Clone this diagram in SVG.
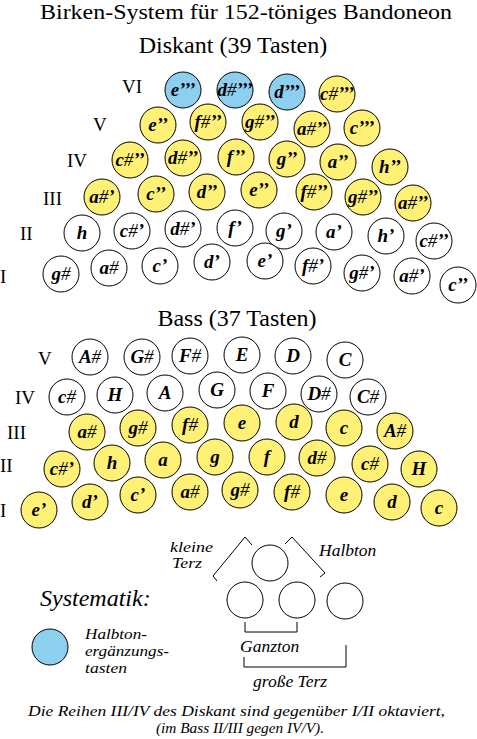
<svg xmlns="http://www.w3.org/2000/svg" width="477" height="739" viewBox="0 0 477 739">
<style>
.k{stroke:#000;stroke-width:1}
.w{fill:#fff}
.y{fill:#fff176}
.b{fill:#8ccfee}
.n{font-family:"Liberation Serif","Times New Roman",serif;font-weight:bold;font-style:italic;font-size:19px;text-anchor:middle;fill:#000}
.s{font-weight:normal}
.r{font-family:"Liberation Serif","Times New Roman",serif;font-size:19px;fill:#000}
.t{font-family:"Liberation Serif","Times New Roman",serif;font-size:24px;fill:#000;text-anchor:middle}
.i{font-family:"Liberation Serif","Times New Roman",serif;font-style:italic;font-size:17.5px;fill:#000}
.f{font-size:15px}
.ln{fill:none;stroke:#000;stroke-width:1}
</style>
<defs>
<circle id="c" r="18"/>
</defs>
<text class="t" x="40" y="19" style="font-size:21px;text-anchor:start" textLength="412" lengthAdjust="spacingAndGlyphs">Birken-System für 152-töniges Bandoneon</text>
<text class="t" x="233" y="53">Diskant (39 Tasten)</text>
<text class="t" x="237" y="326">Bass (37 Tasten)</text>
<g id="row-labels">
<text class="r" x="122" y="93">VI</text>
<text class="r" x="93" y="131">V</text>
<text class="r" x="67" y="167">IV</text>
<text class="r" x="43" y="205">III</text>
<text class="r" x="20" y="240">II</text>
<text class="r" x="0" y="283">I</text>
<text class="r" x="38" y="365">V</text>
<text class="r" x="15" y="404">IV</text>
<text class="r" x="7" y="439">III</text>
<text class="r" x="0" y="472">II</text>
<text class="r" x="0" y="517">I</text>
</g>
<g id="diskant">
<g id="d-e3"><use href="#c" x="183" y="90" class="k b"/><text class="n" x="183" y="96">e’’’</text></g>
<g id="d-dis3"><use href="#c" x="235" y="90" class="k b"/><text class="n" x="235" y="96">d<tspan class="s">#</tspan>’’’</text></g>
<g id="d-d3"><use href="#c" x="287" y="92" class="k b"/><text class="n" x="287" y="98">d’’’</text></g>
<g id="d-cis3"><use href="#c" x="337" y="94" class="k y"/><text class="n" x="337" y="100">c<tspan class="s">#</tspan>’’’</text></g>

<g id="d-e2"><use href="#c" x="158" y="125" class="k y"/><text class="n" x="158" y="131">e’’</text></g>
<g id="d-fis2"><use href="#c" x="208" y="122" class="k y"/><text class="n" x="208" y="128">f<tspan class="s">#</tspan>’’</text></g>
<g id="d-gis2"><use href="#c" x="260" y="122" class="k y"/><text class="n" x="260" y="128">g<tspan class="s">#</tspan>’’</text></g>
<g id="d-ais2"><use href="#c" x="312" y="129" class="k y"/><text class="n" x="312" y="135">a<tspan class="s">#</tspan>’’</text></g>
<g id="d-c3"><use href="#c" x="362" y="128" class="k y"/><text class="n" x="362" y="134">c’’’</text></g>

<g id="d-cis2"><use href="#c" x="130" y="160" class="k y"/><text class="n" x="130" y="166">c<tspan class="s">#</tspan>’’</text></g>
<g id="d-dis2"><use href="#c" x="183" y="158" class="k y"/><text class="n" x="183" y="164">d<tspan class="s">#</tspan>’’</text></g>
<g id="d-f2"><use href="#c" x="236" y="157" class="k y"/><text class="n" x="236" y="163">f’’</text></g>
<g id="d-g2"><use href="#c" x="287" y="159" class="k y"/><text class="n" x="287" y="165">g’’</text></g>
<g id="d-a2"><use href="#c" x="338" y="162" class="k y"/><text class="n" x="338" y="168">a’’</text></g>
<g id="d-h2"><use href="#c" x="390" y="167" class="k y"/><text class="n" x="390" y="173">h’’</text></g>

<g id="d-ais1"><use href="#c" x="102" y="197" class="k y"/><text class="n" x="102" y="203">a<tspan class="s">#</tspan>’</text></g>
<g id="d-c2"><use href="#c" x="156" y="194" class="k y"/><text class="n" x="156" y="200">c’’</text></g>
<g id="d-d2"><use href="#c" x="207" y="192" class="k y"/><text class="n" x="207" y="198">d’’</text></g>
<g id="d-e2b"><use href="#c" x="259" y="190" class="k y"/><text class="n" x="259" y="196">e’’</text></g>
<g id="d-fis2b"><use href="#c" x="314" y="192" class="k y"/><text class="n" x="314" y="198">f<tspan class="s">#</tspan>’’</text></g>
<g id="d-gis2b"><use href="#c" x="363" y="197" class="k y"/><text class="n" x="363" y="203">g<tspan class="s">#</tspan>’’</text></g>
<g id="d-ais2b"><use href="#c" x="413" y="203" class="k y"/><text class="n" x="413" y="209">a<tspan class="s">#</tspan>’’</text></g>

<g id="d-h"><use href="#c" x="82" y="233" class="k w"/><text class="n" x="82" y="239">h</text></g>
<g id="d-cis1"><use href="#c" x="132" y="231" class="k w"/><text class="n" x="132" y="237">c<tspan class="s">#</tspan>’</text></g>
<g id="d-dis1"><use href="#c" x="183" y="229" class="k w"/><text class="n" x="183" y="235">d<tspan class="s">#</tspan>’</text></g>
<g id="d-f1"><use href="#c" x="235" y="228" class="k w"/><text class="n" x="235" y="234">f’</text></g>
<g id="d-g1"><use href="#c" x="284" y="231" class="k w"/><text class="n" x="284" y="237">g’</text></g>
<g id="d-a1"><use href="#c" x="334" y="232" class="k w"/><text class="n" x="334" y="238">a’</text></g>
<g id="d-h1"><use href="#c" x="386" y="236" class="k w"/><text class="n" x="386" y="242">h’</text></g>
<g id="d-cis2b"><use href="#c" x="434" y="241" class="k w"/><text class="n" x="434" y="247">c<tspan class="s">#</tspan>’’</text></g>

<g id="d-gis"><use href="#c" x="61" y="274" class="k w"/><text class="n" x="61" y="280">g<tspan class="s">#</tspan></text></g>
<g id="d-ais"><use href="#c" x="109" y="268" class="k w"/><text class="n" x="109" y="274">a<tspan class="s">#</tspan></text></g>
<g id="d-c1"><use href="#c" x="160" y="266" class="k w"/><text class="n" x="160" y="272">c’</text></g>
<g id="d-d1"><use href="#c" x="212" y="262" class="k w"/><text class="n" x="212" y="268">d’</text></g>
<g id="d-e1"><use href="#c" x="265" y="261" class="k w"/><text class="n" x="265" y="267">e’</text></g>
<g id="d-fis1"><use href="#c" x="313" y="266" class="k w"/><text class="n" x="313" y="272">f<tspan class="s">#</tspan>’</text></g>
<g id="d-gis1"><use href="#c" x="362" y="273" class="k w"/><text class="n" x="362" y="279">g<tspan class="s">#</tspan>’</text></g>
<g id="d-ais1b"><use href="#c" x="412" y="276" class="k w"/><text class="n" x="412" y="282">a<tspan class="s">#</tspan>’</text></g>
<g id="d-c2b"><use href="#c" x="458" y="285" class="k w"/><text class="n" x="458" y="291">c’’</text></g>
</g>

<g id="bass">
<g id="b-Ais"><use href="#c" x="90" y="357" class="k w"/><text class="n" x="90" y="363">A<tspan class="s">#</tspan></text></g>
<g id="b-Gis"><use href="#c" x="142" y="357" class="k w"/><text class="n" x="142" y="363">G<tspan class="s">#</tspan></text></g>
<g id="b-Fis"><use href="#c" x="190" y="356" class="k w"/><text class="n" x="190" y="362">F<tspan class="s">#</tspan></text></g>
<g id="b-E"><use href="#c" x="242" y="355" class="k w"/><text class="n" x="242" y="361">E</text></g>
<g id="b-D"><use href="#c" x="293" y="356" class="k w"/><text class="n" x="293" y="362">D</text></g>
<g id="b-C"><use href="#c" x="345" y="360" class="k w"/><text class="n" x="345" y="366">C</text></g>

<g id="b-cis"><use href="#c" x="67" y="397" class="k w"/><text class="n" x="67" y="403">c<tspan class="s">#</tspan></text></g>
<g id="b-H"><use href="#c" x="115" y="395" class="k w"/><text class="n" x="115" y="401">H</text></g>
<g id="b-A"><use href="#c" x="165" y="393" class="k w"/><text class="n" x="165" y="399">A</text></g>
<g id="b-G"><use href="#c" x="217" y="390" class="k w"/><text class="n" x="217" y="396">G</text></g>
<g id="b-F"><use href="#c" x="268" y="391" class="k w"/><text class="n" x="268" y="397">F</text></g>
<g id="b-Dis"><use href="#c" x="319" y="394" class="k w"/><text class="n" x="319" y="400">D<tspan class="s">#</tspan></text></g>
<g id="b-Cis"><use href="#c" x="368" y="397" class="k w"/><text class="n" x="368" y="403">C<tspan class="s">#</tspan></text></g>

<g id="b-ais"><use href="#c" x="87" y="432" class="k y"/><text class="n" x="87" y="438">a<tspan class="s">#</tspan></text></g>
<g id="b-gis"><use href="#c" x="138" y="428" class="k y"/><text class="n" x="138" y="434">g<tspan class="s">#</tspan></text></g>
<g id="b-fis"><use href="#c" x="190" y="425" class="k y"/><text class="n" x="190" y="431">f<tspan class="s">#</tspan></text></g>
<g id="b-e"><use href="#c" x="242" y="423" class="k y"/><text class="n" x="242" y="429">e</text></g>
<g id="b-d"><use href="#c" x="294" y="422" class="k y"/><text class="n" x="294" y="428">d</text></g>
<g id="b-c"><use href="#c" x="344" y="428" class="k y"/><text class="n" x="344" y="434">c</text></g>
<g id="b-Ais2"><use href="#c" x="395" y="431" class="k y"/><text class="n" x="395" y="437">A<tspan class="s">#</tspan></text></g>

<g id="b-cis1"><use href="#c" x="62" y="469" class="k y"/><text class="n" x="62" y="475">c<tspan class="s">#</tspan>’</text></g>
<g id="b-h"><use href="#c" x="112" y="463" class="k y"/><text class="n" x="112" y="469">h</text></g>
<g id="b-a"><use href="#c" x="163" y="460" class="k y"/><text class="n" x="163" y="466">a</text></g>
<g id="b-g"><use href="#c" x="215" y="457" class="k y"/><text class="n" x="215" y="463">g</text></g>
<g id="b-f"><use href="#c" x="267" y="457" class="k y"/><text class="n" x="267" y="463">f</text></g>
<g id="b-dis"><use href="#c" x="317" y="458" class="k y"/><text class="n" x="317" y="464">d<tspan class="s">#</tspan></text></g>
<g id="b-cis2"><use href="#c" x="370" y="464" class="k y"/><text class="n" x="370" y="470">c<tspan class="s">#</tspan></text></g>
<g id="b-H2"><use href="#c" x="419" y="469" class="k y"/><text class="n" x="419" y="475">H</text></g>

<g id="b-e1"><use href="#c" x="39" y="510" class="k y"/><text class="n" x="39" y="516">e’</text></g>
<g id="b-d1"><use href="#c" x="90" y="502" class="k y"/><text class="n" x="90" y="508">d’</text></g>
<g id="b-c1"><use href="#c" x="138" y="495" class="k y"/><text class="n" x="138" y="501">c’</text></g>
<g id="b-ais2"><use href="#c" x="190" y="492" class="k y"/><text class="n" x="190" y="498">a<tspan class="s">#</tspan></text></g>
<g id="b-gis2"><use href="#c" x="240" y="490" class="k y"/><text class="n" x="240" y="496">g<tspan class="s">#</tspan></text></g>
<g id="b-fis2"><use href="#c" x="292" y="492" class="k y"/><text class="n" x="292" y="498">f<tspan class="s">#</tspan></text></g>
<g id="b-e2"><use href="#c" x="344" y="495" class="k y"/><text class="n" x="344" y="501">e</text></g>
<g id="b-d2"><use href="#c" x="392" y="502" class="k y"/><text class="n" x="392" y="508">d</text></g>
<g id="b-c2"><use href="#c" x="439" y="508" class="k y"/><text class="n" x="439" y="514">c</text></g>
</g>

<g id="legend">
<text class="i" x="40" y="606" style="font-size:24px">Systematik:</text>
<g id="lg-top"><use href="#c" x="270" y="563" class="k w"/></g>
<g id="lg-b1"><use href="#c" x="245" y="600" class="k w"/></g>
<g id="lg-b2"><use href="#c" x="297" y="600" class="k w"/></g>
<g id="lg-b3"><use href="#c" x="345" y="601" class="k w"/></g>
<g id="lg-blue"><use href="#c" x="50" y="647" class="k b"/></g>
<text class="i" x="170" y="552" style="font-size:14.3px" textLength="43" lengthAdjust="spacingAndGlyphs">kleine</text>
<text class="i" x="172" y="568" style="font-size:14.3px" textLength="30" lengthAdjust="spacingAndGlyphs">Terz</text>
<text class="i" x="319" y="556">Halbton</text>
<text class="i" x="240" y="652">Ganzton</text>
<text class="i" x="253" y="687">große Terz</text>
<text class="i" x="85" y="639" style="font-size:15.2px" textLength="62" lengthAdjust="spacingAndGlyphs">Halbton-</text>
<text class="i" x="85" y="656" style="font-size:15.2px" textLength="84" lengthAdjust="spacingAndGlyphs">ergänzungs-</text>
<text class="i" x="85" y="673" style="font-size:15.2px" textLength="42" lengthAdjust="spacingAndGlyphs">tasten</text>
</g>
<g id="connectors">
<polyline class="ln" points="252,545 245,537 213,576 217,581"/>
<polyline class="ln" points="285,544 292,537 325,573 320,577"/>
<polyline class="ln" points="245,622 245,632 297,632 297,622"/>
<polyline class="ln" points="244,657 244,667 346,667 346,645"/>
</g>
<text class="i f" x="28" y="716" textLength="417" lengthAdjust="spacingAndGlyphs">Die Reihen III/IV des Diskant sind gegenüber I/II oktaviert,</text>
<text class="i f" x="156" y="733" textLength="168" lengthAdjust="spacingAndGlyphs">(im Bass II/III gegen IV/V).</text>
</svg>
